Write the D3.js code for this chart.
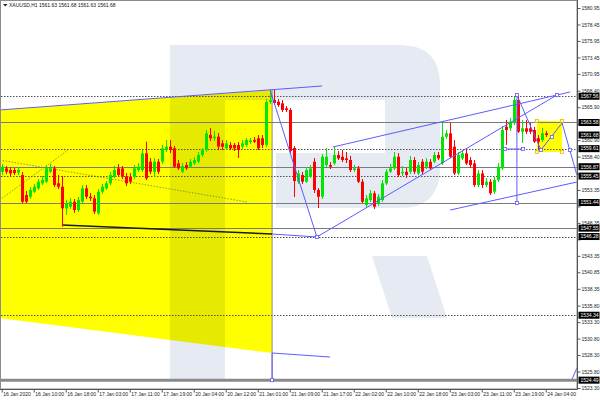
<!DOCTYPE html>
<html><head><meta charset="utf-8">
<script src="https://cdn.jsdelivr.net/npm/d3@7"></script>
<style>
body{margin:0;background:#fff}
svg{display:block}
text{font-family:"Liberation Sans",Arial,sans-serif;}
</style>
</head><body>
<svg id="c" width="600" height="400"></svg>
<script>
// ---------- DATA ----------
const symbol = "XAUUSD,H1";
const headerValues = ["1561.63", "1561.68", "1561.63", "1561.68"];

const timeLabels = ["16 Jan 2020","16 Jan 10:00","16 Jan 18:00","17 Jan 03:00","17 Jan 11:00","17 Jan 19:00",
  "20 Jan 04:00","20 Jan 12:00","21 Jan 01:00","21 Jan 09:00","21 Jan 17:00","22 Jan 02:00","22 Jan 10:00",
  "22 Jan 18:00","23 Jan 03:00","23 Jan 11:00","23 Jan 19:00","24 Jan 04:00"];
const timeLabelBars = [0,8,16,24,32,40,48,56,64,72,80,88,96,104,112,120,128,136];

const priceTickLabels = ["1580.95","1578.45","1575.95","1573.45","1570.95","1568.40","1565.90","1563.40",
  "1560.90","1558.40","1555.85","1553.35","1550.85","1548.35","1545.85","1543.35","1540.85","1538.35",
  "1535.80","1533.30","1530.80","1528.30","1525.80","1523.30"];

const opens = [1556.11,1556.62,1556.37,1556.37,1555.96,1555.61,1552.58,1552.32,1553.08,1553.59,
1554.35,1554.60,1556.11,1556.62,1554.35,1553.84,1550.56,1550.81,1551.56,1550.30,
1551.56,1553.59,1552.32,1552.08,1549.80,1553.08,1553.59,1554.35,1555.35,1556.62,
1556.62,1555.35,1555.35,1555.35,1556.37,1556.37,1558.90,1557.63,1556.11,1557.63,
1557.63,1559.41,1559.91,1559.66,1557.38,1556.11,1557.13,1556.87,1557.38,1557.63,
1558.65,1559.41,1561.68,1561.18,1561.42,1560.42,1559.66,1560.17,1560.17,1560.17,
1559.91,1560.17,1560.62,1560.92,1561.18,1561.18,1560.17,1566.69,1566.99,1566.74,
1566.49,1565.73,1565.48,1559.71,1554.60,1555.61,1554.60,1555.35,1557.63,1553.34,
1552.32,1557.13,1557.13,1557.38,1558.65,1558.39,1558.14,1557.89,1556.37,1556.62,
1554.60,1551.06,1551.82,1552.84,1551.32,1551.82,1554.35,1556.11,1556.62,1558.39,
1555.86,1556.11,1556.11,1557.89,1555.86,1557.63,1556.87,1557.63,1557.63,1558.65,
1557.38,1561.42,1561.94,1559.91,1555.86,1558.14,1558.90,1557.89,1557.38,1554.09,
1555.86,1554.09,1554.60,1553.08,1554.85,1556.62,1562.94,1562.70,1563.46,1566.99,
1562.18,1562.70,1562.70,1562.44,1561.18,1560.92,1561.94];
const highs = [1557.28,1556.98,1556.82,1556.67,1556.82,1556.06,1553.19,1553.79,1554.25,1555.00,
1555.46,1557.13,1557.28,1556.98,1555.61,1555.46,1551.82,1552.13,1551.97,1552.28,
1554.09,1554.09,1552.88,1552.58,1553.49,1554.25,1554.70,1556.06,1556.98,1557.28,
1556.98,1555.91,1555.91,1557.13,1557.43,1559.41,1560.67,1558.19,1558.19,1558.04,
1560.17,1560.92,1560.92,1560.01,1557.89,1557.43,1557.58,1558.04,1558.34,1559.10,
1559.71,1562.44,1562.74,1562.29,1561.98,1560.92,1560.92,1560.62,1560.47,1560.62,
1560.92,1561.23,1561.23,1561.38,1561.68,1561.68,1567.15,1568.36,1568.51,1567.15,
1566.99,1566.08,1565.78,1560.01,1556.37,1556.06,1556.82,1557.13,1558.19,1553.64,
1558.80,1559.71,1557.58,1559.86,1559.26,1559.41,1559.10,1558.50,1557.13,1556.98,
1555.00,1552.58,1553.34,1553.19,1552.73,1554.85,1556.52,1557.28,1559.10,1558.95,
1556.98,1556.67,1558.50,1558.34,1557.58,1558.04,1558.19,1558.04,1559.10,1559.10,
1563.50,1562.44,1563.50,1560.92,1559.10,1559.41,1559.41,1558.34,1557.89,1556.37,
1556.37,1555.15,1555.00,1555.30,1557.43,1563.05,1563.96,1564.26,1567.45,1567.75,
1563.96,1563.96,1563.50,1562.90,1561.68,1562.74,1562.29];
const lows = [1555.61,1555.76,1555.46,1555.61,1555.61,1551.32,1551.36,1551.97,1552.88,1553.34,
1554.09,1554.40,1555.91,1553.79,1553.49,1547.77,1549.55,1550.46,1549.85,1550.00,
1551.36,1551.97,1551.67,1549.70,1549.55,1552.73,1553.34,1554.09,1555.15,1555.30,
1555.00,1553.94,1554.25,1555.00,1556.06,1556.06,1554.85,1555.76,1555.30,1555.76,
1557.28,1559.10,1558.95,1556.67,1556.37,1555.91,1556.37,1556.67,1557.13,1557.43,
1558.34,1559.10,1560.77,1560.77,1559.41,1559.41,1559.41,1559.41,1559.26,1558.19,
1559.56,1559.86,1560.32,1560.47,1559.41,1559.71,1559.86,1566.39,1566.23,1565.93,
1565.17,1565.17,1558.95,1552.28,1554.25,1554.25,1554.40,1555.15,1552.88,1550.61,
1551.97,1556.82,1556.52,1557.13,1557.89,1557.58,1557.43,1556.06,1556.06,1554.40,
1551.36,1550.76,1551.52,1550.46,1550.91,1551.52,1554.09,1555.91,1556.37,1555.30,
1555.46,1555.15,1555.76,1555.76,1555.61,1555.76,1556.52,1556.37,1557.43,1557.89,
1557.13,1561.08,1558.19,1555.61,1555.61,1557.89,1557.13,1556.67,1553.79,1553.79,
1553.64,1553.79,1552.58,1552.73,1554.55,1556.37,1560.17,1562.29,1563.20,1561.98,
1560.47,1561.83,1561.83,1560.47,1559.56,1560.62,1561.38];
const closes = [1556.87,1556.11,1555.86,1555.91,1556.37,1551.56,1551.56,1553.34,1553.84,1554.60,
1554.85,1556.62,1556.62,1554.09,1553.84,1550.56,1551.32,1551.56,1550.30,1551.82,
1553.59,1552.32,1552.08,1550.05,1553.08,1553.84,1554.35,1555.61,1556.37,1555.61,
1555.35,1554.35,1554.60,1556.62,1556.87,1558.90,1555.10,1556.11,1557.63,1556.11,
1559.66,1559.91,1559.41,1556.87,1556.62,1556.98,1556.62,1557.63,1557.89,1558.65,
1559.41,1561.94,1561.18,1561.42,1559.91,1559.91,1560.42,1559.66,1559.66,1559.41,
1560.42,1560.92,1560.85,1560.67,1559.66,1560.17,1566.69,1566.99,1566.54,1566.23,
1565.48,1565.48,1559.26,1554.70,1555.86,1554.60,1556.37,1556.62,1553.34,1552.32,
1558.39,1558.39,1556.87,1558.65,1558.14,1557.89,1557.89,1556.37,1556.62,1554.60,
1551.56,1552.08,1552.84,1550.81,1552.32,1554.35,1556.11,1556.62,1558.39,1555.61,
1556.11,1555.61,1557.89,1556.11,1557.13,1556.11,1557.63,1556.62,1558.65,1558.14,
1561.42,1561.94,1558.39,1555.86,1558.65,1558.90,1557.38,1557.13,1554.09,1555.86,
1554.09,1554.60,1552.84,1554.85,1556.87,1562.44,1562.44,1563.70,1566.99,1562.18,
1562.70,1562.18,1562.18,1560.67,1560.67,1561.94,1561.68];

// horizontal levels
const levelDotted = [1567.56, 1559.61, 1555.45, 1546.28, 1534.34];
const levelSolid = [1563.58, 1556.87, 1551.44, 1547.55];
const levelThick = [1524.49];
const boxedPrices = [1567.56, 1563.58, 1561.68, 1559.61, 1556.87, 1555.45, 1551.44, 1547.55, 1546.28, 1534.34, 1524.49];

// drawn objects, in (bar index, price)
const yellowArea = [[-0.5,1565.48],[67.6,1568.51],[67.6,1528.61],[-0.5,1533.92]];
const yellowBox = [133.8,1563.81,140.1,1559.10];
const blueLines = [
  [-0.5,1565.48, 80.1,1569.12],
  [67.6,1528.61, 82.1,1528.00],
  [67.6,1528.61, 67.6,1524.49],
  [67.6,1546.66, 78.8,1546.21],
  [67.1,1568.51, 78.8,1546.21],
  [78.8,1546.21, 138.8,1567.75],
  [82.8,1559.86, 142.1,1568.21],
  [112.1,1550.30, 143.8,1554.55],
  [128.8,1567.75, 128.8,1551.36],
  [125.8,1559.56, 130.3,1559.56],
  [128.8,1567.75, 134.8,1559.41],
  [134.8,1559.41, 140.1,1563.50],
  [140.1,1563.50, 143.8,1555.61],
  [142.6,1524.66, 143.8,1526.33]
];
const blueMarkers = [[67.6,1524.49],[78.8,1546.21],[138.8,1567.75],[128.8,1567.75],[128.8,1551.36],
  [125.8,1559.56],[130.3,1559.56],[134.8,1559.41],[137.6,1561.38],[142.1,1559.41]];
const grayVertical = [67.6,1568.51,67.6,1524.49];
const blackLine = [15.1,1548.03,67.6,1546.66];
const dottedDiagonals = [[-0.5,1557.89,61.3,1551.52],[-0.5,1551.82,16.6,1559.41]];

// ---------- CHART ----------
const svg = d3.select("#c");
const PR = 577, PB = 389;
const x = d3.scaleLinear().domain([0,136]).range([1.7,545.7]);
const y = d3.scaleLinear().domain([1523.30,1580.95]).range([388,8]);
const BLUE = "#5c5cff";

svg.append("rect").attr("width",600).attr("height",400).attr("fill","#fff");
svg.append("defs").append("clipPath").attr("id","pc")
  .append("rect").attr("x",1).attr("y",1).attr("width",PR-1).attr("height",PB-1);
const g = svg.append("g").attr("clip-path","url(#pc)");

// yellow objects
g.append("polygon").attr("points", yellowArea.map(p=>[x(p[0]),y(p[1])].join(",")).join(" "))
  .attr("fill","#ffff00");
g.append("rect").attr("x",x(yellowBox[0])).attr("y",y(yellowBox[1]))
  .attr("width",x(yellowBox[2])-x(yellowBox[0])).attr("height",y(yellowBox[3])-y(yellowBox[1]))
  .attr("fill","#ffff00");

// watermark (decorative logo)
const wm = g.append("g").style("mix-blend-mode","multiply").attr("fill","#e6eaf3");
wm.append("rect").attr("x",170).attr("y",45).attr("width",55).attr("height",335);
wm.append("path").attr("d","M170,45 H400 Q440,45 440,85 V168 Q440,208 400,208 H276 V153 H385 V100 H170 Z");
wm.append("path").attr("d","M372,256 H427 L447,318 H392 Z");

// dotted diagonals
dottedDiagonals.forEach(d=>{
  g.append("line").attr("x1",x(d[0])).attr("y1",y(d[1])).attr("x2",x(d[2])).attr("y2",y(d[3]))
   .attr("stroke","#7a7a40").attr("stroke-width",0.8).attr("stroke-dasharray","1.5,1.5");
});

// level lines
const ry = v => Math.round(y(v)) + 0.5;
levelSolid.forEach(v=>g.append("line").attr("x1",1).attr("x2",PR).attr("y1",ry(v)).attr("y2",ry(v))
  .attr("stroke","#7a7a7a").attr("stroke-width",1));
levelDotted.forEach(v=>g.append("line").attr("x1",1).attr("x2",PR).attr("y1",ry(v)).attr("y2",ry(v))
  .attr("stroke","#505050").attr("stroke-width",1).attr("stroke-dasharray","1.5,1.5"));
levelThick.forEach(v=>g.append("line").attr("x1",1).attr("x2",PR).attr("y1",y(v)).attr("y2",y(v))
  .attr("stroke","#8a8a8a").attr("stroke-width",3));

// gray vertical + black line
g.append("line").attr("x1",x(grayVertical[0])).attr("y1",y(grayVertical[1]))
  .attr("x2",x(grayVertical[2])).attr("y2",y(grayVertical[3])).attr("stroke","#8a8a8a").attr("stroke-width",1);
g.append("line").attr("x1",x(blackLine[0])).attr("y1",y(blackLine[1]))
  .attr("x2",x(blackLine[2])).attr("y2",y(blackLine[3])).attr("stroke","#1a1a1a").attr("stroke-width",1.5);

// candles
const bars = d3.range(opens.length).map(i=>({i,o:opens[i],h:highs[i],l:lows[i],c:closes[i]}));
const cg = g.append("g");
cg.selectAll("line.w").data(bars).join("line").attr("class","w")
  .attr("x1",d=>Math.round(x(d.i))+0.5).attr("x2",d=>Math.round(x(d.i))+0.5)
  .attr("y1",d=>y(d.h)).attr("y2",d=>y(d.l))
  .attr("stroke",d=>d.c>=d.o?"#00e600":"#ff0000").attr("stroke-width",1);
cg.selectAll("rect.b").data(bars).join("rect").attr("class","b")
  .attr("x",d=>Math.round(x(d.i))-1).attr("width",3)
  .attr("y",d=>y(Math.max(d.o,d.c))).attr("height",d=>Math.max(1,Math.abs(y(d.o)-y(d.c))))
  .attr("fill",d=>d.c>=d.o?"#00e600":"#ff0000");

// blue lines
blueLines.forEach(d=>{
  g.append("line").attr("x1",x(d[0])).attr("y1",y(d[1])).attr("x2",x(d[2])).attr("y2",y(d[3]))
   .attr("stroke",BLUE).attr("stroke-width",1);
});
g.selectAll("rect.m").data(blueMarkers).join("rect").attr("class","m")
  .attr("x",d=>x(d[0])-1.5).attr("y",d=>y(d[1])-1.5).attr("width",3).attr("height",3)
  .attr("fill","#fff").attr("stroke",BLUE).attr("stroke-width",0.8);
[[yellowBox[0],yellowBox[1]],[yellowBox[2],yellowBox[1]],[yellowBox[0],yellowBox[3]],[yellowBox[2],yellowBox[3]]]
  .forEach(p=>g.append("rect").attr("x",x(p[0])-1.5).attr("y",y(p[1])-1.5).attr("width",3).attr("height",3)
  .attr("fill","none").attr("stroke","#e0c000").attr("stroke-width",0.8));

// frame
svg.append("rect").attr("x",0.5).attr("y",0.5).attr("width",PR-0.5).attr("height",PB-0.5)
  .attr("fill","none").attr("stroke","#8c8c8c");
svg.append("line").attr("x1",PR+0.5).attr("x2",PR+0.5).attr("y1",0).attr("y2",PB+0.5).attr("stroke","#555");
svg.append("line").attr("x1",0).attr("x2",PR+0.5).attr("y1",PB+0.5).attr("y2",PB+0.5).attr("stroke","#555");

// right axis (tick labels hidden where a price box covers them, as on the reference)
const covered = v => boxedPrices.some(b => Math.abs(y(b) - y(v)) < 5);
const ya = d3.axisRight(y).tickValues(priceTickLabels.map(Number)).tickSize(3)
  .tickFormat((d,i)=>covered(d) ? "" : priceTickLabels[i]);
const yg = svg.append("g").attr("transform",`translate(${PR+0.5},0)`).call(ya);
yg.select(".domain").remove();
yg.selectAll("line").attr("stroke","#555");
yg.selectAll("text").attr("x",4).attr("font-size",5).attr("fill","#222")
  .attr("font-family","Liberation Sans, Arial, sans-serif");

// boxed price labels
const bx = svg.append("g");
boxedPrices.forEach(v=>{
  const yy = y(v);
  bx.append("rect").attr("x",PR+1.5).attr("y",yy-3.5).attr("width",21).attr("height",7).attr("fill","#000");
  bx.append("text").attr("x",PR+3.5).attr("y",yy+1.8).attr("font-size",5).attr("fill","#fff")
    .text(v.toFixed(2));
});

// bottom axis
const xa = d3.axisBottom(x).tickValues(timeLabelBars).tickSize(3)
  .tickFormat((d,i)=>timeLabels[i]);
const xg = svg.append("g").attr("transform",`translate(0,${PB+0.5})`).call(xa);
xg.select(".domain").remove();
xg.selectAll("line").attr("stroke","#555");
xg.selectAll("text").attr("text-anchor","start").attr("dx",1).attr("y",3).attr("dy","0.71em")
  .attr("font-size",5).attr("fill","#222").attr("font-family","Liberation Sans, Arial, sans-serif");

// title
svg.append("polygon").attr("points","3,4 7.5,4 5.25,6.5").attr("fill","#222");
svg.append("text").attr("x",9).attr("y",7).attr("font-size",5).attr("fill","#111")
  .text(symbol + "  " + headerValues.join(" "));
</script>
</body></html>
